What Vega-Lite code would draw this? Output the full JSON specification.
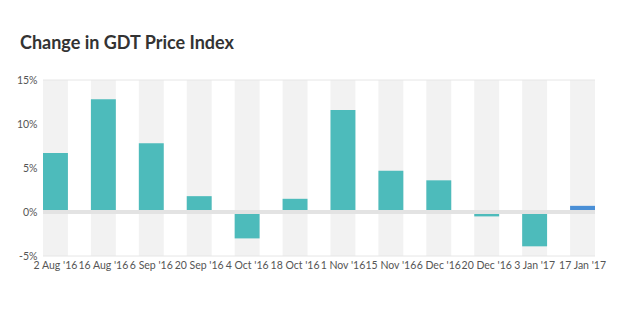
{
  "$schema": "https://vega.github.io/schema/vega-lite/v6.json",
  "width": 552,
  "height": 176,
  "autosize": {"type": "none"},
  "padding": {"left": 43, "top": 80, "right": 35, "bottom": 56},
  "background": "white",
  "title": {
    "text": "Change in GDT Price Index",
    "anchor": "start",
    "frame": "group",
    "dx": -23,
    "offset": 22,
    "font": "Lato",
    "fontSize": 18,
    "fontWeight": "bold",
    "color": "#333333"
  },
  "config": {
    "view": {"stroke": null},
    "axis": {"labelFont": "Lato", "labelFontSize": 10.5, "labelColor": "#555555"}
  },
  "data": {
    "values": [
      {"date": "2 Aug '16", "change": 6.7, "latest": "no"},
      {"date": "16 Aug '16", "change": 12.8, "latest": "no"},
      {"date": "6 Sep '16", "change": 7.8, "latest": "no"},
      {"date": "20 Sep '16", "change": 1.8, "latest": "no"},
      {"date": "4 Oct '16", "change": -3.0, "latest": "no"},
      {"date": "18 Oct '16", "change": 1.5, "latest": "no"},
      {"date": "1 Nov '16", "change": 11.6, "latest": "no"},
      {"date": "15 Nov '16", "change": 4.7, "latest": "no"},
      {"date": "6 Dec '16", "change": 3.6, "latest": "no"},
      {"date": "20 Dec '16", "change": -0.5, "latest": "no"},
      {"date": "3 Jan '17", "change": -3.9, "latest": "no"},
      {"date": "17 Jan '17", "change": 0.7, "latest": "yes"}
    ]
  },
  "encoding": {
    "x": {
      "field": "date",
      "type": "ordinal",
      "sort": null,
      "scale": {"paddingInner": 0.48, "paddingOuter": 0},
      "axis": {"title": null, "labelAngle": 0, "domain": false, "ticks": false, "labelPadding": 4, "labelOverlap": false}
    }
  },
  "layer": [
    {
      "mark": {"type": "bar", "color": "#f2f2f2"},
      "encoding": {
        "y": {"datum": -5, "type": "quantitative", "scale": {"domain": [-5, 15], "nice": false, "zero": false}},
        "y2": {"datum": 15}
      }
    },
    {
      "mark": {"type": "bar"},
      "encoding": {
        "y": {
          "field": "change",
          "type": "quantitative",
          "scale": {"domain": [-5, 15], "nice": false},
          "axis": {
            "title": null,
            "values": [-5, 0, 5, 10, 15],
            "labelExpr": "datum.value + '%'",
            "domain": false,
            "ticks": false,
            "grid": false,
            "labelPadding": 6
          }
        },
        "y2": {"datum": 0},
        "color": {
          "field": "latest",
          "type": "nominal",
          "scale": {"domain": ["no", "yes"], "range": ["#4dbbbb", "#4a8fd6"]},
          "legend": null
        }
      }
    },
    {
      "mark": {"type": "rule", "color": "#e3e3e3", "strokeWidth": 4},
      "encoding": {"y": {"datum": 0}, "x": {"value": 0}, "x2": {"value": 552}}
    },
    {
      "data": {"values": [{"v": -5}, {"v": 15}]},
      "mark": {"type": "rule", "color": "#e6e6e6", "strokeWidth": 1},
      "encoding": {"y": {"field": "v", "type": "quantitative"}, "x": {"value": 0}, "x2": {"value": 552}}
    }
  ]
}
